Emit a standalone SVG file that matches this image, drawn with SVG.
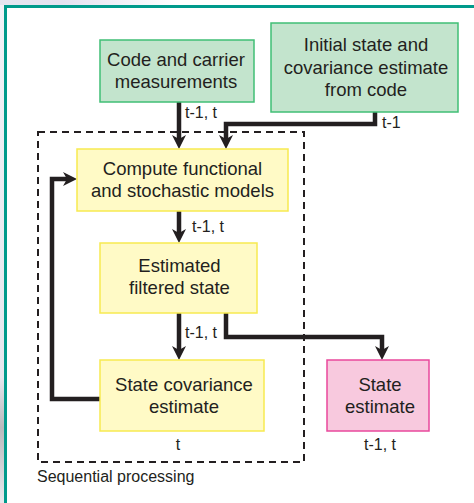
<svg xmlns="http://www.w3.org/2000/svg" width="474" height="503" viewBox="0 0 474 503">
<style>
.box text{font-family:"Liberation Sans",Arial,sans-serif;font-size:18.5px;fill:#231f20;text-anchor:middle}
.lbl{font-family:"Liberation Sans",Arial,sans-serif;font-size:16px;fill:#231f20}
.g{fill:#c3e4cd;stroke:#40bf75;stroke-width:1.5}
.y{fill:#fffac6;stroke:#f7ea50;stroke-width:1.5}
.p{fill:#f8c9de;stroke:#e9489c;stroke-width:1.5}
.c{fill:none;stroke:#231f20;stroke-width:4.5}
</style>
<defs>
<linearGradient id="lg" x1="0" y1="0" x2="0" y2="1">
<stop offset="0" stop-color="#f2f2f7"/><stop offset="0.75" stop-color="#e6e7ee"/><stop offset="0.85" stop-color="#b9babd"/><stop offset="1" stop-color="#e8e9ee"/>
</linearGradient>
<linearGradient id="tg" x1="0" y1="0" x2="1" y2="0">
<stop offset="0" stop-color="#e6e6f0"/><stop offset="0.35" stop-color="#e4e2f0"/><stop offset="1" stop-color="#ffffff"/>
</linearGradient>
<marker id="ah" viewBox="0 0 14 14" refX="4" refY="7" markerWidth="14" markerHeight="14" markerUnits="userSpaceOnUse" orient="auto">
<path d="M0,0 L14,7 L0,14 L4,7 z" fill="#231f20"/>
</marker>
</defs>
<rect width="474" height="503" fill="#fff"/>
<rect x="0" y="0" width="4" height="503" fill="url(#lg)"/>
<rect x="0" y="0" width="180" height="5" fill="url(#tg)"/>
<path d="M5.5,503 V6.5 H474" fill="none" stroke="#009a8b" stroke-width="3"/>
<rect x="38" y="132" width="266" height="330" fill="none" stroke="#231f20" stroke-width="2" stroke-dasharray="7,5"/>
<text class="lbl" x="37" y="482">Sequential processing</text>
<g id="connectors">
<path class="c" d="M179,102 V139" marker-end="url(#ah)"/>
<path class="c" d="M375,112 V124 H226 V139" marker-end="url(#ah)"/>
<path class="c" d="M179,211 V233" marker-end="url(#ah)"/>
<path class="c" d="M179,313 V350" marker-end="url(#ah)"/>
<path class="c" d="M226,313 V337 H382 V350" marker-end="url(#ah)"/>
<path class="c" d="M100,399 H52 V179 H67" marker-end="url(#ah)"/>
<text class="lbl" x="185" y="118">t-1, t</text>
<text class="lbl" x="382" y="128">t-1</text>
<text class="lbl" x="192" y="232">t-1, t</text>
<text class="lbl" x="185" y="338">t-1, t</text>
<text class="lbl" x="178" y="450" text-anchor="middle">t</text>
<text class="lbl" x="380" y="450" text-anchor="middle">t-1, t</text>
</g>
<g id="code" class="box">
<rect class="g" x="100" y="40" width="154" height="62"/>
<text x="176" y="66">Code and carrier</text>
<text x="176" y="88">measurements</text>
</g>
<g id="initial" class="box">
<rect class="g" x="271" y="23" width="187" height="89"/>
<text x="366" y="51">Initial state and</text>
<text x="366" y="73.5">covariance estimate</text>
<text x="366" y="96">from code</text>
</g>
<g id="compute" class="box">
<rect class="y" x="77" y="149" width="211" height="62"/>
<text x="182.5" y="175">Compute functional</text>
<text x="182.5" y="197">and stochastic models</text>
</g>
<g id="filtered" class="box">
<rect class="y" x="100" y="243" width="157" height="70"/>
<text x="179.5" y="272">Estimated</text>
<text x="179.5" y="294">filtered state</text>
</g>
<g id="covariance" class="box">
<rect class="y" x="100" y="360" width="164" height="71"/>
<text x="184" y="391">State covariance</text>
<text x="184" y="413">estimate</text>
</g>
<g id="stateest" class="box">
<rect class="p" x="327" y="360" width="102" height="71"/>
<text x="380" y="391">State</text>
<text x="380" y="413">estimate</text>
</g>
</svg>
